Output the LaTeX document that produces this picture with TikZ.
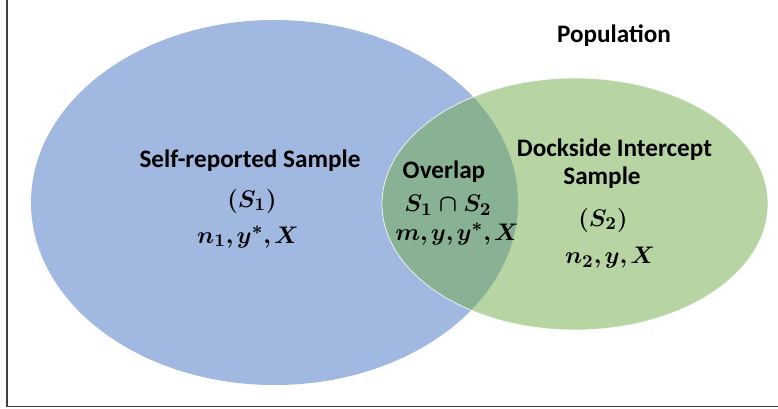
\documentclass[tikz,border=0pt]{standalone}
\usepackage{fontspec}
\setmainfont{Carlito}
\usetikzlibrary{shapes.geometric}
\definecolor{selfblue}{RGB}{161,184,225}
\definecolor{dockgreen}{RGB}{112,173,71}
\definecolor{frameline}{RGB}{64,64,64}
\newcommand{\cm}{\mathpunct{,}\mkern-1mu}
\tikzset{
  setshape/.style={ellipse, inner sep=0pt},
  lbl/.style={font=\fontsize{12.6}{14.8}\selectfont\bfseries\boldmath, text=black, inner sep=0pt, align=center},
}
\begin{document}
\begin{tikzpicture}[x=0.5pt, y=-0.5pt]
  \useasboundingbox (0,0) rectangle (778,408);
  \fill[white] (0,0) rectangle (778,408);
  % frame edges
  \draw[frameline, line width=0.75pt] (7,0) -- (7,406.5) -- (778,406.5);
  % the two samples
  \node[setshape, fill=selfblue, minimum width=243.5pt, minimum height=182.5pt] (s1) at (274.5,202.5) {};
  \node[setshape, fill=dockgreen, fill opacity=0.5, draw=white, line width=0.4pt, draw opacity=0.8,
        minimum width=193pt, minimum height=126pt] (s2) at (575,204) {};
  % labels
  \node[lbl] (pop) at (614,36) {Population};
  \node[lbl] (s1name) at (250,161) {Self-reported Sample};
  \node[lbl] (s1sym) at (252,201) {$(S_1)$};
  \node[lbl] (s1var) at (248,237) {$n_1\cm y^*\cm X$};
  \node[lbl] (ovname) at (444,172) {Overlap};
  \node[lbl] (ovsym) at (448,205) {$S_1\cap S_2$};
  \node[lbl] (ovvar) at (457,234) {$m\cm y\cm y^*\cm X$};
  \node[lbl] (s2name) at (614.5,150) {Dockside Intercept};
  \node[lbl] (s2name2) at (602,178) {Sample};
  \node[lbl] (s2sym) at (603,220) {$(S_2)$};
  \node[lbl] (s2var) at (610,258) {$n_2\cm y\cm X$};
\end{tikzpicture}
\end{document}
